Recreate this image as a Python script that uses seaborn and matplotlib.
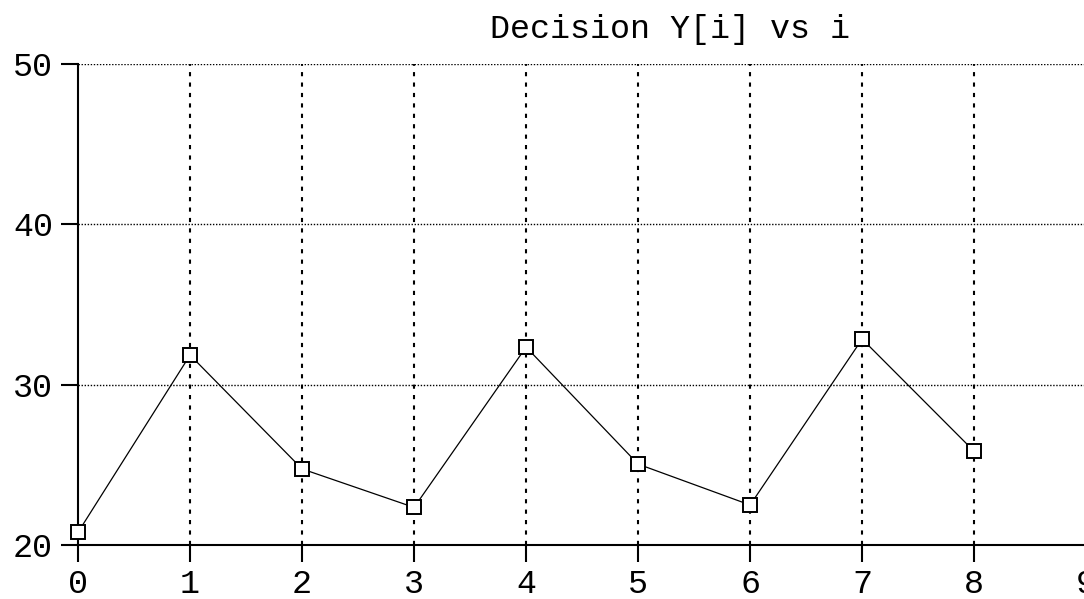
import pandas as pd
import matplotlib.pyplot as plt
import seaborn as sns

# values
idx = [0, 1, 2, 3, 4, 5, 6, 7, 8]
decision = [20.8, 31.85, 24.75, 22.35, 32.35, 25.05, 22.5, 32.85, 25.85]

df = pd.DataFrame({"i": idx, "Y": decision})

sns.set_style("white")
plt.rcParams["font.family"] = ["Liberation Mono", "DejaVu Sans Mono"]

fig = plt.figure(figsize=(10.84, 5.99), dpi=100)
ax = fig.add_axes([0.072, 0.090, 0.930, 0.803])

sns.lineplot(data=df, x="i", y="Y", ax=ax, color="black", linewidth=0.9,
             marker="s", markersize=9.5, markerfacecolor="white",
             markeredgecolor="black", markeredgewidth=1.4, clip_on=False,
             zorder=5)

ax.set_xlim(0, 9)
ax.set_ylim(20, 50)
ax.set_xticks(range(0, 10))
ax.set_yticks([20, 30, 40, 50])
ax.set_xlabel("")
ax.set_ylabel("")

# dotted grid
for x in range(1, 9):
    ax.axvline(x, color="black", linestyle=(0, (2, 3)), linewidth=1.5, zorder=0)
for y in [30, 40, 50]:
    ax.axhline(y, color="black", linestyle=(0, (1, 1.2)), linewidth=1.0, zorder=0)

for s in ["top", "right"]:
    ax.spines[s].set_visible(False)
for s in ["left", "bottom"]:
    ax.spines[s].set_color("black")
    ax.spines[s].set_linewidth(1.5)

ax.tick_params(direction="out", length=12, width=1.5, colors="black",
               labelsize=24, pad=5, bottom=True, left=True)
ax.tick_params(axis="y", pad=6)

fig.text(0.618, 0.951, "Decision Y[i] vs i", ha="center", va="center",
         fontsize=24, color="black")

fig.savefig("out.png", dpi=100)
